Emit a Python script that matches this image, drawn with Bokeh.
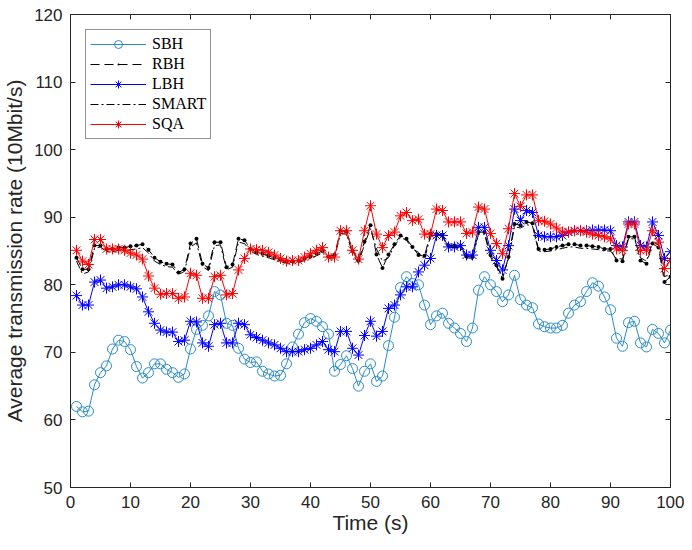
from bokeh.plotting import figure
from bokeh.models import Range1d, LinearAxis, Legend, LegendItem, FixedTicker, CustomJSTickFormatter
from bokeh.embed import file_html
from bokeh.resources import INLINE

t = list(range(1, 101))

sbh = [62.0, 61.2, 61.3, 65.2, 67.0, 68.0, 70.5, 71.8, 71.6, 70.4,
       67.9, 66.2, 67.0, 68.3, 68.3, 67.5, 67.0, 66.3, 66.8, 70.5,
       73.4, 74.0, 75.4, 79.0, 78.5, 74.3, 74.0, 70.6, 69.0, 68.5,
       68.6, 67.2, 66.8, 66.5, 66.6, 68.3, 70.8, 72.7, 74.4, 75.0,
       74.6, 73.8, 72.7, 67.2, 68.2, 69.5, 67.6, 65.0, 67.2, 68.3,
       65.7, 66.5, 71.0, 75.2, 79.6, 81.2, 80.2, 80.0, 77.0, 74.1,
       75.4, 75.8, 74.3, 73.6, 72.8, 71.6, 73.6, 79.2, 81.2, 80.0,
       79.0, 77.5, 78.5, 81.4, 77.8, 77.0, 76.6, 74.2, 73.8, 73.6,
       73.6, 74.0, 75.8, 77.0, 77.5, 79.0, 80.3, 79.8, 78.2, 76.3,
       72.1, 70.9, 74.4, 74.6, 71.4, 70.8, 73.4, 72.8, 71.4, 73.3]

rbh = [84.0, 82.3, 82.3, 85.8, 85.8, 85.3, 85.3, 85.5, 85.5, 85.7,
       85.8, 86.0, 85.2, 84.0, 83.4, 83.1, 83.0, 81.8, 82.3, 86.1,
       86.8, 83.1, 82.5, 86.3, 86.3, 82.6, 83.0, 86.8, 86.6, 85.3,
       84.8, 84.6, 84.3, 84.0, 83.7, 83.5, 83.5, 83.6, 83.9, 84.2,
       84.6, 85.0, 84.2, 84.4, 88.0, 87.9, 85.0, 83.6, 86.4, 88.8,
       84.5, 82.5, 84.5, 86.0, 87.3, 86.8, 85.6, 84.4, 84.3, 87.6,
       87.5, 87.4, 85.8, 85.8, 85.8, 84.2, 84.1, 87.8, 87.8, 84.4,
       82.9, 80.9, 84.1, 89.0, 88.8, 89.3, 89.1, 85.3, 85.2, 85.3,
       85.6, 85.8, 86.0, 86.0, 85.8, 85.8, 85.7, 85.6, 85.3, 85.3,
       83.6, 83.5, 87.1, 87.1, 83.6, 83.1, 86.1, 85.5, 80.4, 81.2]

lbh = [78.4, 77.0, 77.0, 80.4, 80.7, 79.5, 79.7, 80.0, 80.0, 79.7,
       79.4, 78.2, 76.0, 74.3, 73.3, 73.0, 73.0, 71.6, 71.8, 74.6,
       74.5, 71.4, 70.9, 74.1, 74.3, 71.4, 71.4, 74.3, 74.1, 72.6,
       72.2, 71.8, 71.4, 71.1, 70.6, 70.1, 70.1, 70.1, 70.4, 70.6,
       71.1, 71.6, 70.4, 70.1, 73.1, 73.1, 70.6, 69.6, 72.5, 74.6,
       72.4, 73.1, 76.5, 77.0, 78.5, 79.7, 79.7, 81.9, 82.9, 83.9,
       87.3, 87.3, 85.6, 85.6, 85.8, 84.4, 84.4, 88.5, 88.5, 85.1,
       83.6, 82.2, 85.8, 91.2, 89.5, 91.0, 90.7, 87.3, 87.1, 87.1,
       87.1, 87.3, 87.8, 88.0, 88.0, 88.0, 88.1, 88.1, 88.1, 88.0,
       85.8, 85.6, 89.3, 89.3, 85.8, 85.6, 89.3, 87.3, 83.9, 84.9]

smart = [83.5, 81.6, 81.9, 85.4, 85.6, 84.9, 84.9, 85.1, 85.0, 85.2,
         85.3, 85.5, 84.7, 83.5, 83.0, 82.7, 82.6, 81.5, 82.0, 85.6,
         86.2, 82.7, 82.1, 85.8, 85.9, 82.2, 82.6, 86.3, 86.1, 85.0,
         84.5, 84.2, 84.0, 83.7, 83.4, 83.2, 83.2, 83.3, 83.6, 83.9,
         84.3, 84.7, 83.9, 84.0, 87.6, 87.5, 84.7, 83.2, 86.0, 88.3,
         85.3, 83.5, 84.0, 85.8, 87.0, 86.6, 85.3, 84.8, 83.8, 87.2,
         87.2, 87.1, 85.5, 85.5, 85.5, 83.9, 83.8, 87.5, 87.5, 84.1,
         82.6, 81.3, 83.8, 88.6, 88.4, 88.9, 88.7, 85.0, 84.9, 85.0,
         85.2, 85.4, 85.6, 85.6, 85.4, 85.4, 85.3, 85.2, 85.0, 85.0,
         83.9, 83.8, 86.8, 86.8, 84.0, 83.5, 86.4, 85.9, 81.2, 81.6]

sqa = [85.1, 83.5, 83.0, 86.7, 86.7, 85.3, 85.3, 85.3, 85.1, 84.7,
       84.4, 83.8, 81.3, 79.5, 78.6, 78.7, 78.7, 78.0, 78.2, 81.7,
       81.4, 78.0, 78.0, 81.2, 81.4, 78.5, 78.7, 82.2, 83.9, 85.3,
       85.2, 85.1, 84.8, 84.4, 83.9, 83.5, 83.6, 83.6, 84.1, 84.6,
       85.1, 85.5, 84.1, 84.1, 88.0, 88.0, 85.1, 83.8, 88.0, 91.7,
       87.5, 85.5, 87.3, 87.8, 90.2, 90.7, 89.5, 89.7, 87.5, 87.5,
       91.2, 91.0, 89.3, 89.3, 89.3, 87.6, 87.8, 91.5, 91.2, 87.6,
       86.1, 84.6, 88.3, 93.5, 91.6, 93.3, 93.3, 89.5, 89.4, 89.0,
       88.4, 87.8, 87.8, 88.0, 88.0, 87.8, 87.5, 87.3, 87.1, 86.8,
       85.3, 85.1, 89.0, 89.0, 85.1, 85.1, 88.0, 86.3, 82.4, 83.6]

x_ticks = [0, 10, 20, 30, 40, 50, 60, 70, 80, 90, 100]
y_ticks = [50, 60, 70, 80, 90, 100, 110, 120]

AX = "#262626"
FONT = "Liberation Sans"

p = figure(width=684, height=540, x_range=Range1d(0, 100), y_range=Range1d(50, 120),
           output_backend="svg", toolbar_location=None,
           min_border_left=69, min_border_right=14, min_border_top=14, min_border_bottom=53)
p.grid.visible = False
p.outline_line_color = AX
p.outline_line_width = 1
p.background_fill_color = "white"
p.border_fill_color = "white"

for ax in (p.xaxis[0], p.yaxis[0]):
    ax.major_tick_in = 5
    ax.major_tick_out = 0
    ax.minor_tick_in = 0
    ax.minor_tick_out = 0
    ax.axis_line_color = AX
    ax.major_tick_line_color = AX
    ax.major_label_text_color = AX
    ax.major_label_text_font = FONT
    ax.major_label_text_font_size = "17px"
    ax.axis_label_text_font = FONT
    ax.axis_label_text_font_size = "21px"
    ax.axis_label_text_font_style = "normal"
    ax.axis_label_text_color = AX

p.xaxis[0].ticker = FixedTicker(ticks=x_ticks)
p.yaxis[0].ticker = FixedTicker(ticks=y_ticks)
p.xaxis[0].axis_label = "Time (s)"
p.yaxis[0].axis_label = "Average transmission rate (10Mbit/s)"
p.xaxis[0].major_label_standoff = 8
p.xaxis[0].axis_label_standoff = 0
p.yaxis[0].major_label_standoff = 8
p.yaxis[0].axis_label_standoff = 5

top = LinearAxis(ticker=FixedTicker(ticks=x_ticks), formatter=CustomJSTickFormatter(code="return ''"))
right = LinearAxis(ticker=FixedTicker(ticks=y_ticks), formatter=CustomJSTickFormatter(code="return ''"))
for ax in (top, right):
    ax.major_tick_in = 5
    ax.major_tick_out = 0
    ax.minor_tick_in = 0
    ax.minor_tick_out = 0
    ax.axis_line_color = AX
    ax.major_tick_line_color = AX
    ax.major_label_standoff = 0
    ax.major_label_text_font_size = "0px"
p.add_layout(top, "above")
p.add_layout(right, "right")

C_SBH = "#2a8bc9"
l1 = p.line(t, sbh, line_color=C_SBH, line_width=1)
s1 = p.scatter(t, sbh, marker="circle", size=10, line_color=C_SBH, fill_alpha=0, line_width=1)

l2 = p.line(t, rbh, line_color="black", line_width=1, line_dash="9 5")
s2 = p.scatter(t, rbh, marker="dot", size=16, line_color="black", fill_color="black")

l3 = p.line(t, lbh, line_color="#0000ff", line_width=1)
s3 = p.scatter(t, lbh, marker="asterisk", size=11, line_color="#0000ff", line_width=1)

l4 = p.line(t, smart, line_color="black", line_width=1, line_dash="8 3 2 3")

l5 = p.line(t, sqa, line_color="#ff0000", line_width=1)
s5 = p.scatter(t, sqa, marker="asterisk", size=11, line_color="#ff0000", line_width=1)

legend = Legend(items=[
    LegendItem(label="SBH", renderers=[l1, s1]),
    LegendItem(label="RBH", renderers=[l2, s2]),
    LegendItem(label="LBH", renderers=[l3, s3]),
    LegendItem(label="SMART", renderers=[l4]),
    LegendItem(label="SQA", renderers=[l5, s5]),
], location="top_left")
legend.margin = 15
legend.padding = 4
legend.spacing = 0
legend.glyph_width = 56
legend.glyph_height = 20
legend.label_height = 20
legend.label_standoff = 6
legend.label_text_font = "Liberation Serif"
legend.label_text_font_size = "16px"
legend.label_text_color = "black"
legend.border_line_color = AX
legend.border_line_width = 1
legend.background_fill_color = "white"
legend.background_fill_alpha = 1
p.add_layout(legend)

open("out.html", "w").write(file_html(p, INLINE))
